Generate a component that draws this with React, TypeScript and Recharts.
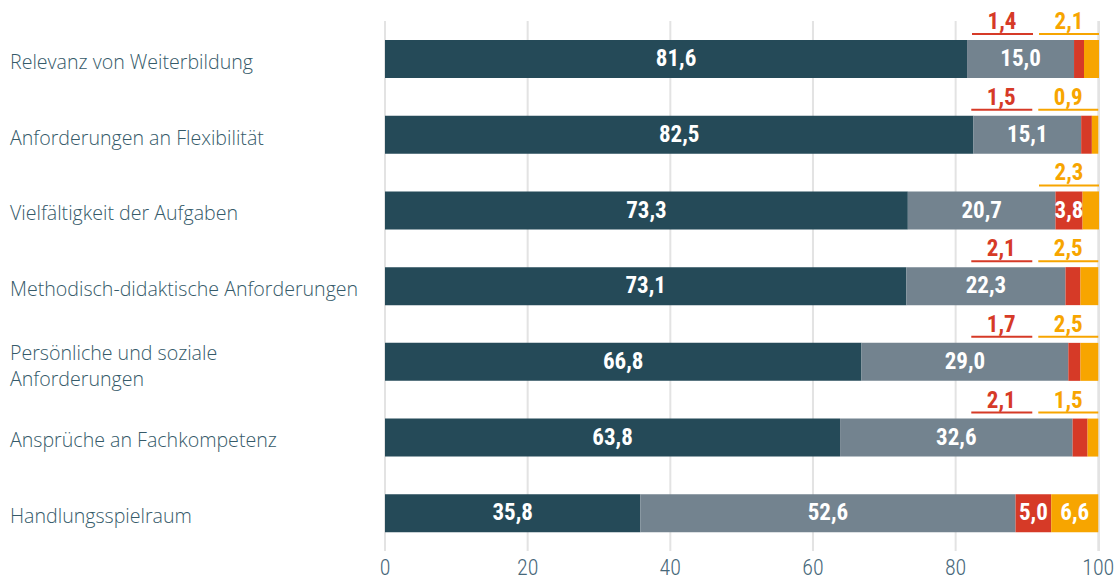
import { BarChart, Bar, XAxis, YAxis, CartesianGrid, LabelList } from 'recharts';

// Kategorien und Anteile (%)
const kategorien = [
  'Relevanz von Weiterbildung',
  'Anforderungen an Flexibilität',
  'Vielfältigkeit der Aufgaben',
  'Methodisch-didaktische Anforderungen',
  'Persönliche und soziale|Anforderungen',
  'Ansprüche an Fachkompetenz',
  'Handlungsspielraum',
];
const gestiegen = [81.6, 82.5, 73.3, 73.1, 66.8, 63.8, 35.8];
const gleich = [15.0, 15.1, 20.7, 22.3, 29.0, 32.6, 52.6];
const gesunken = [1.4, 1.5, 3.8, 2.1, 1.7, 2.1, 5.0];
const unklar = [2.1, 0.9, 2.3, 2.5, 2.5, 1.5, 6.6];
const xTicks = [0, 20, 40, 60, 80, 100];

const data = kategorien.map((name, i) => ({
  name,
  a: gestiegen[i],
  b: gleich[i],
  c: gesunken[i],
  d: unklar[i],
}));

const C_DARK = '#254a58';
const C_GRAY = '#73838f';
const C_RED = '#d63a27';
const C_ORANGE = '#f7a500';
const NUM_FONT = '"Roboto Condensed", "Liberation Sans Narrow", "DejaVu Sans Condensed", sans-serif';
const LABEL_FONT = "'Open Sans', Lato, sans-serif";
const fmt = (v: number) => v.toFixed(1).replace('.', ',');

// eslint-disable-next-line @typescript-eslint/no-explicit-any
function InsideLabel({ x, y, width, height, value, min }: any) {
  if (value < (min ?? 0)) return null;
  return (
    <text x={x + width / 2} y={y + height / 2 + 1} textAnchor="middle" dominantBaseline="middle"
      fill="#fff" fontFamily={NUM_FONT} fontWeight={700} fontSize={23}>
      {fmt(value)}
    </text>
  );
}

// Kleine Werte stehen über dem Balken, mit Unterstrich
// eslint-disable-next-line @typescript-eslint/no-explicit-any
function AboveLabels({ x, y, width, height, index }: any) {
  const row = data[index];
  const right = x + width;
  const out = [];
  if (row.c < 3) {
    out.push(
      <g key="c">
        <text x={right - 97} y={y - 11} textAnchor="middle" fill={C_RED}
          fontFamily={NUM_FONT} fontWeight={700} fontSize={23}>{fmt(row.c)}</text>
        <line x1={right - 127} x2={right - 66} y1={y - 6} y2={y - 6} stroke={C_RED} strokeWidth={2} />
      </g>
    );
  }
  if (row.d < 3) {
    out.push(
      <g key="d">
        <text x={right - 30} y={y - 11} textAnchor="middle" fill={C_ORANGE}
          fontFamily={NUM_FONT} fontWeight={700} fontSize={23}>{fmt(row.d)}</text>
        <line x1={right - 60} x2={right} y1={y - 6} y2={y - 6} stroke={C_ORANGE} strokeWidth={2} />
      </g>
    );
  } else {
    out.push(
      <text key="di" x={x + width / 2} y={y + height / 2 + 1} textAnchor="middle" dominantBaseline="middle"
        fill="#fff" fontFamily={NUM_FONT} fontWeight={700} fontSize={23}>{fmt(row.d)}</text>
    );
  }
  return <g>{out}</g>;
}

// eslint-disable-next-line @typescript-eslint/no-explicit-any
function CategoryTick({ y, payload }: any) {
  const lines = String(payload.value).split('|');
  if (lines.length === 1) {
    return (
      <text x={10} y={y + 10} textAnchor="start" fill="#355a69"
        fontFamily={LABEL_FONT} fontWeight={300} fontSize={19.6}>{lines[0]}</text>
    );
  }
  return (
    <g>
      {lines.map((l, i) => (
        <text key={i} x={10} y={y - 2 + i * 26} textAnchor="start" fill="#355a69"
          fontFamily={LABEL_FONT} fontWeight={300} fontSize={19.6}>{l}</text>
      ))}
    </g>
  );
}

export default function App() {
  return (
    <div style={{ position: 'absolute', left: 0, top: 0, background: '#fff' }}>
      <BarChart width={1116} height={580} data={data} layout="vertical"
        margin={{ top: 21, right: 17, left: 0, bottom: 0 }} barSize={38}>
        <CartesianGrid horizontal={false} stroke="#e3e3e3" strokeWidth={2} />
        <XAxis type="number" domain={[0, 100]} ticks={xTicks} axisLine={false} tickLine={false}
          height={29} tick={{ fill: '#47687a', fontSize: 22, fontFamily: NUM_FONT, fontWeight: 300 }}
          tickMargin={2} />
        <YAxis type="category" dataKey="name" width={385} axisLine={false} tickLine={false}
          tick={<CategoryTick />} />
        <Bar dataKey="a" stackId="s" fill={C_DARK} isAnimationActive={false}>
          <LabelList dataKey="a" content={<InsideLabel />} />
        </Bar>
        <Bar dataKey="b" stackId="s" fill={C_GRAY} isAnimationActive={false}>
          <LabelList dataKey="b" content={<InsideLabel />} />
        </Bar>
        <Bar dataKey="c" stackId="s" fill={C_RED} isAnimationActive={false}>
          <LabelList dataKey="c" content={<InsideLabel min={3} />} />
        </Bar>
        <Bar dataKey="d" stackId="s" fill={C_ORANGE} isAnimationActive={false}>
          <LabelList dataKey="d" content={<AboveLabels />} />
        </Bar>
      </BarChart>
    </div>
  );
}
